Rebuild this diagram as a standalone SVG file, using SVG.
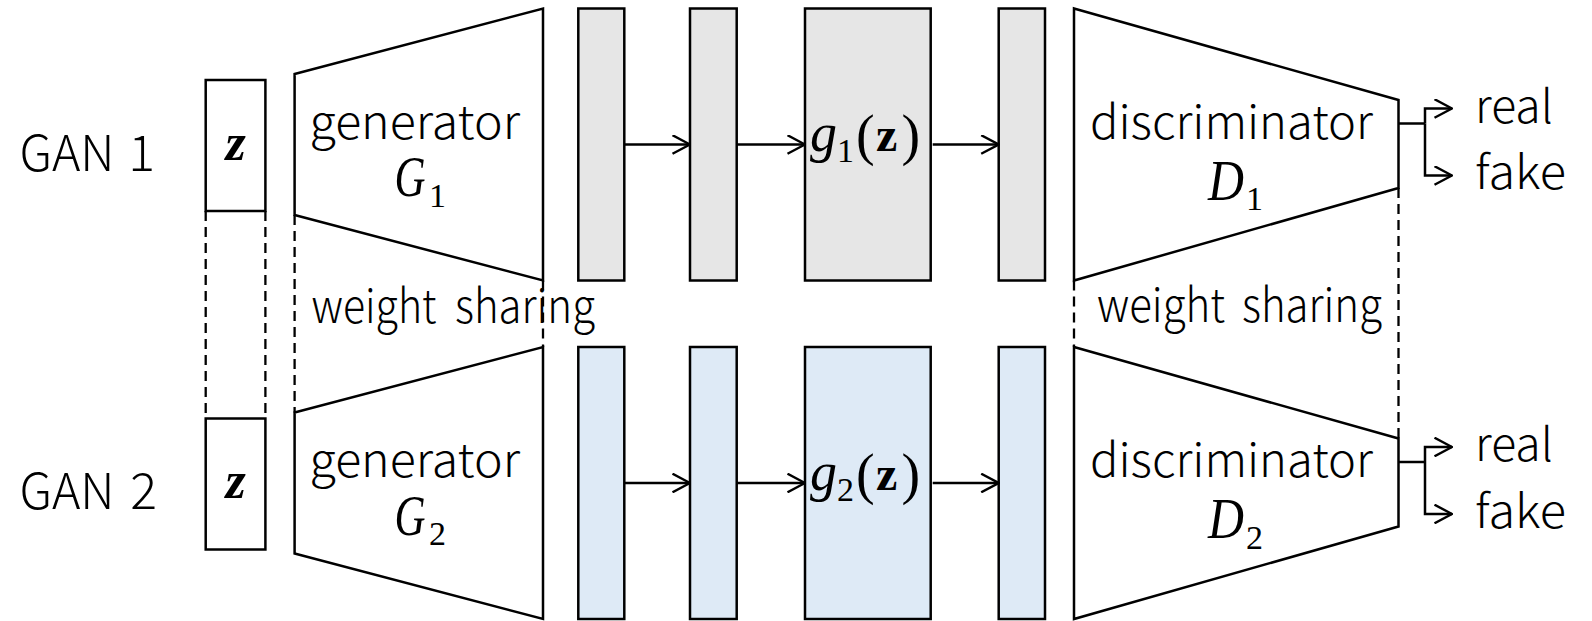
<svg xmlns="http://www.w3.org/2000/svg" width="1592" height="621" viewBox="0 0 1592 621">
  <defs>
    <marker id="chev" viewBox="0 0 20 20" refX="19" refY="10" markerWidth="20" markerHeight="20" markerUnits="userSpaceOnUse" orient="auto">
      <path d="M1.5,0.7 L19,10 L1.5,19.3" fill="none" stroke="#000" stroke-width="2.4"/>
    </marker>
    <style>
      .shape { stroke: #000; stroke-width: 2.5; fill: #fff; }
      .gray { fill: #e6e6e6; stroke: #000; stroke-width: 2.5; }
      .blue { fill: #deeaf6; stroke: #000; stroke-width: 2.5; }
      .line { stroke: #000; stroke-width: 2.5; fill: none; }
      .dash { stroke: #000; stroke-width: 2.3; fill: none; stroke-dasharray: 10 6; }
      .lbl { font-family: "Noto Sans CJK JP", Lato, sans-serif; font-weight: 300; font-size: 46px; fill: #000; }
      .gan { font-family: "Noto Sans CJK JP", Lato, sans-serif; font-weight: 300; font-size: 50px; fill: #000; }
      .mi { font-family: "Liberation Serif", "DejaVu Serif", serif; font-style: italic; fill: #000; }
      .mr { font-family: "Liberation Serif", "DejaVu Serif", serif; fill: #000; }
      .mb { font-family: "Liberation Serif", "DejaVu Serif", serif; font-weight: bold; fill: #000; }
    </style>
  </defs>

  <!-- row labels -->
  <g id="label-gan1">
    <text class="gan" x="19.5" y="170.5" textLength="95" lengthAdjust="spacingAndGlyphs">GAN</text>
    <text class="gan" x="155" y="170.5" text-anchor="end">1</text>
  </g>
  <g id="label-gan2">
    <text class="gan" x="19.5" y="509" textLength="95" lengthAdjust="spacingAndGlyphs">GAN</text>
    <text class="gan" x="157" y="509" text-anchor="end">2</text>
  </g>

  <!-- latent vectors -->
  <g id="z1">
    <rect class="shape" x="205.7" y="80" width="59.7" height="131"/>
    <text class="mb" font-style="italic" font-size="52" x="235.5" y="159.5" text-anchor="middle">z</text>
  </g>
  <g id="z2" transform="translate(0,338.5)">
    <rect class="shape" x="205.7" y="80" width="59.7" height="131"/>
    <text class="mb" font-style="italic" font-size="52" x="235.5" y="159.5" text-anchor="middle">z</text>
  </g>

  <!-- generators -->
  <g id="gen1">
    <polygon class="shape" points="294.6,74 543,8.5 543,280.5 294.6,215"/>
    <text class="lbl" x="309.5" y="138.5" textLength="210.5" lengthAdjust="spacingAndGlyphs">generator</text>
    <text class="mi" font-size="56" x="394.5" y="196" textLength="31" lengthAdjust="spacingAndGlyphs">G</text>
    <text class="mr" font-size="34" x="429" y="206.5">1</text>
  </g>
  <g id="gen2" transform="translate(0,338.5)">
    <polygon class="shape" points="294.6,74 543,8.5 543,280.5 294.6,215"/>
    <text class="lbl" x="309.5" y="138.5" textLength="210.5" lengthAdjust="spacingAndGlyphs">generator</text>
    <text class="mi" font-size="56" x="394.5" y="196" textLength="31" lengthAdjust="spacingAndGlyphs">G</text>
    <text class="mr" font-size="34" x="429" y="206.5">2</text>
  </g>

  <!-- generator layers, GAN 1 -->
  <g id="layer1a"><rect class="gray" x="578.3" y="8.5" width="46" height="272"/></g>
  <g id="layer1b"><rect class="gray" x="690" y="8.5" width="46.7" height="272"/></g>
  <g id="image1">
    <rect class="gray" x="805" y="8.5" width="125.7" height="272"/>
    <text class="mi" font-size="54" x="810" y="151">g</text>
    <text class="mr" font-size="34" x="837" y="162">1</text>
    <text class="mr" font-size="56" x="856" y="154">(</text>
    <text class="mb" font-size="48" x="876" y="151">z</text>
    <text class="mr" font-size="56" x="901.5" y="154">)</text>
  </g>
  <g id="layer1d"><rect class="gray" x="998.7" y="8.5" width="46.3" height="272"/></g>

  <!-- generator layers, GAN 2 -->
  <g id="layer2a"><rect class="blue" x="578.3" y="347" width="46" height="272"/></g>
  <g id="layer2b"><rect class="blue" x="690" y="347" width="46.7" height="272"/></g>
  <g id="image2">
    <rect class="blue" x="805" y="347" width="125.7" height="272"/>
    <text class="mi" font-size="54" x="810" y="489.5">g</text>
    <text class="mr" font-size="34" x="837" y="500.5">2</text>
    <text class="mr" font-size="56" x="856" y="492.5">(</text>
    <text class="mb" font-size="48" x="876" y="489.5">z</text>
    <text class="mr" font-size="56" x="901.5" y="492.5">)</text>
  </g>
  <g id="layer2d"><rect class="blue" x="998.7" y="347" width="46.3" height="272"/></g>

  <!-- discriminators -->
  <g id="disc1">
    <polygon class="shape" points="1074,8.5 1398.5,100 1398.5,188 1074,280.5"/>
    <text class="lbl" x="1090" y="138.5" textLength="283" lengthAdjust="spacingAndGlyphs">discriminator</text>
    <text class="mi" font-size="56" x="1208" y="199.5" textLength="36" lengthAdjust="spacingAndGlyphs">D</text>
    <text class="mr" font-size="34" x="1246" y="210">1</text>
  </g>
  <g id="disc2" transform="translate(0,338.5)">
    <polygon class="shape" points="1074,8.5 1398.5,100 1398.5,188 1074,280.5"/>
    <text class="lbl" x="1090" y="138.5" textLength="283" lengthAdjust="spacingAndGlyphs">discriminator</text>
    <text class="mi" font-size="56" x="1208" y="199.5" textLength="36" lengthAdjust="spacingAndGlyphs">D</text>
    <text class="mr" font-size="34" x="1246" y="210">2</text>
  </g>

  <!-- outputs -->
  <g id="out1">
    <text class="lbl" x="1475" y="122.5" textLength="78" lengthAdjust="spacingAndGlyphs">real</text>
    <text class="lbl" x="1475" y="189" textLength="91" lengthAdjust="spacingAndGlyphs">fake</text>
  </g>
  <g id="out2" transform="translate(0,338.5)">
    <text class="lbl" x="1475" y="122.5" textLength="78" lengthAdjust="spacingAndGlyphs">real</text>
    <text class="lbl" x="1475" y="189" textLength="91" lengthAdjust="spacingAndGlyphs">fake</text>
  </g>

  <!-- weight-sharing labels -->
  <g id="share-gen">
    <text class="lbl" y="322.5"><tspan x="311.5" textLength="125" lengthAdjust="spacingAndGlyphs">weight</tspan> <tspan x="455" textLength="140" lengthAdjust="spacingAndGlyphs">sharing</tspan></text>
  </g>
  <g id="share-disc">
    <text class="lbl" y="321.5"><tspan x="1097" textLength="128" lengthAdjust="spacingAndGlyphs">weight</tspan> <tspan x="1242" textLength="140" lengthAdjust="spacingAndGlyphs">sharing</tspan></text>
  </g>

  <!-- connectors -->
  <g id="connectors">
    <!-- data flow, GAN 1 -->
    <path class="line" d="M624.3,144.5 H690" marker-end="url(#chev)"/>
    <path class="line" d="M736.7,144.5 H805" marker-end="url(#chev)"/>
    <path class="line" d="M932.7,144.5 H998.7" marker-end="url(#chev)"/>
    <path class="line" d="M1398.5,123.5 H1425"/>
    <path class="line" d="M1425,123.5 V108.5 H1452" marker-end="url(#chev)"/>
    <path class="line" d="M1425,123.5 V175.5 H1452" marker-end="url(#chev)"/>
    <!-- data flow, GAN 2 -->
    <path class="line" d="M624.3,483 H690" marker-end="url(#chev)"/>
    <path class="line" d="M736.7,483 H805" marker-end="url(#chev)"/>
    <path class="line" d="M932.7,483 H998.7" marker-end="url(#chev)"/>
    <path class="line" d="M1398.5,462 H1425"/>
    <path class="line" d="M1425,462 V447 H1452" marker-end="url(#chev)"/>
    <path class="line" d="M1425,462 V514 H1452" marker-end="url(#chev)"/>
    <!-- shared latent code and shared weights -->
    <path class="dash" d="M205.7,211 V418.5"/>
    <path class="dash" d="M265.4,211 V418.5"/>
    <path class="dash" d="M294.6,215 V412.5"/>
    <path class="dash" d="M543,280.5 V347"/>
    <path class="dash" d="M1074,280.5 V347"/>
    <path class="dash" d="M1398.5,188 V438.5"/>
  </g>
</svg>
